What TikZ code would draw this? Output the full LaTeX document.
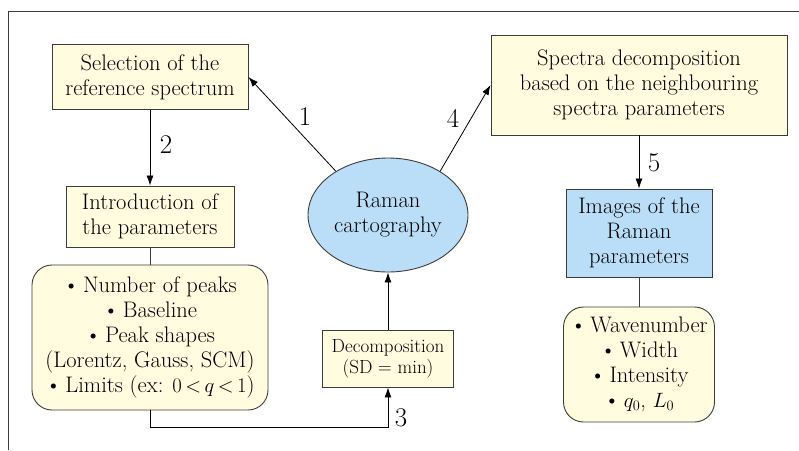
\documentclass[tikz,border=0pt]{standalone}
\usepackage{xcolor}
\usetikzlibrary{shapes.geometric}
\usetikzlibrary{arrows.meta}

\definecolor{cream}{RGB}{255,252,224}
\definecolor{skyfill}{RGB}{186,222,247}
\definecolor{edgegray}{RGB}{60,60,60}

\begin{document}
\begin{tikzpicture}[x=1pt, y=-1pt,
    stepbox/.style={draw=edgegray, fill=cream, line width=0.9pt, inner sep=0pt,
        align=center, font=\fontsize{22.5}{25}\selectfont},
    listbox/.style={stepbox, rounded corners=20pt},
    bluebox/.style={stepbox, fill=skyfill},
    arr/.style={draw=black, line width=0.8pt, -{Latex[length=10pt, width=7pt]}},
    link/.style={draw=edgegray, line width=0.9pt},
    num/.style={font=\fontsize{27}{30}\selectfont}]
        \useasboundingbox (0, 0) rectangle (799, 450);
        \draw[edgegray, line width=0.9pt] (8, 450) -- (8, 11) -- (799, 11);

        % left column
        \node[stepbox, minimum width=196, minimum height=65] (sel) at (150, 77)
            {Selection of the\\reference spectrum};
        \node[stepbox, minimum width=168, minimum height=61] (intro) at (150, 216.5)
            {Introduction of\\the parameters};
        \node[listbox, minimum width=236, minimum height=145] (lim) at (150, 337.5)
            {\textbullet\,Number of peaks\\\textbullet\,Baseline\\\textbullet\,Peak shapes\\
             (Lorentz, Gauss, SCM)\\\textbullet\,Limits (ex: $0\,{<}\,q\,{<}\,1$)};

        % middle column
        \node[ellipse, draw=edgegray, fill=skyfill, line width=0.9pt, inner sep=0pt,
            minimum width=160, minimum height=114, align=center,
            font=\fontsize{22.5}{25}\selectfont] (ell) at (388, 215)
            {Raman\\cartography};
        \node[stepbox, minimum width=131, minimum height=57,
            font=\fontsize{19}{21}\selectfont] (dec) at (388, 358.5)
            {Decomposition\\(SD = min)};

        % right column
        \node[stepbox, minimum width=296, minimum height=100] (spec) at (639, 85)
            {Spectra decomposition\\based on the neighbouring\\spectra parameters};
        \node[bluebox, minimum width=146, minimum height=88] (img) at (639, 233)
            {Images of the\\Raman\\parameters};
        \node[listbox, minimum width=151, minimum height=115] (wave) at (639, 364.5)
            {\textbullet\,Wavenumber\\\textbullet\,Width\\\textbullet\,Intensity\\
             \textbullet\,$q_0$, $L_0$};

        % connectors
        \draw[arr] (ell.140) -- (sel.east);
        \draw[arr] (sel.south) -- (intro.north);
        \draw[link] (intro.south) -- (lim.north);
        \draw[arr] (lim.south) -- ++(0, 17) -| (dec.south);
        \draw[arr] (dec.north) -- (ell.south);
        \draw[arr] (ell.40) -- (spec.west);
        \draw[arr] (spec.south) -- (img.north);
        \draw[link] (img.south) -- (wave.north);

        % step numbers
        \node[num] (n1) at (305, 117) {1};
        \node[num] (n2) at (166, 145) {2};
        \node[num] (n3) at (401, 418) {3};
        \node[num] (n4) at (453, 118) {4};
        \node[num] (n5) at (654, 163) {5};
\end{tikzpicture}
\end{document}
